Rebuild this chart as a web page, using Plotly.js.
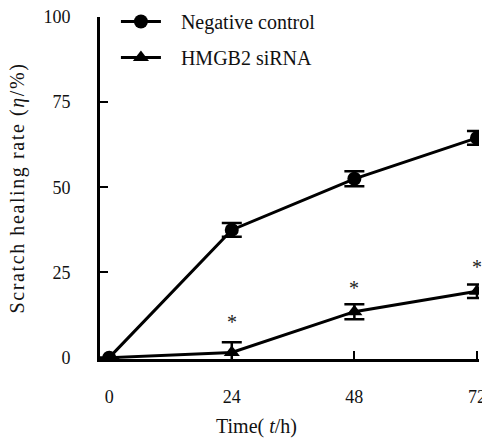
<!DOCTYPE html>
<html><head><meta charset="utf-8">
<script src="https://cdn.plot.ly/plotly-3.0.1.min.js"></script>
<style>html,body{margin:0;padding:0;background:#fff}
.ytitle{letter-spacing:1.6px}</style>
</head><body>
<div id="chart" style="width:482px;height:439px"></div>
<script>
const times = [0, 24, 48, 72];
const controlValues = [0, 37.5, 52.5, 64.5];
const controlErrors = [0, 2, 2.2, 2];
const sirnaValues = [0, 1.5, 13.5, 19.5];
const sirnaErrors = [0, 3, 2.2, 2];
const starTimes = [24, 48, 72];
const starValues = [10.5, 20.5, 26.5];
const xTicks = [0, 24, 48, 72];
const yTicks = [0, 25, 50, 75, 100];

const font = 'Liberation Serif';
const txt = '#111';
const traces = [
  {x: times, y: controlValues, name: '&nbsp;&nbsp;&nbsp;Negative control', legendgroup: 'a', mode: 'lines+markers',
   line: {color: '#000', width: 3}, marker: {symbol: 'circle', size: 14, color: '#000'},
   error_y: {type: 'data', array: controlErrors, visible: true, color: '#000', thickness: 2.5, width: 10}},
  {x: times, y: sirnaValues, name: '&nbsp;&nbsp;&nbsp;HMGB2 siRNA', legendgroup: 'b', mode: 'lines+markers',
   line: {color: '#000', width: 3}, marker: {symbol: 'triangle-up', size: 14, color: '#000'},
   error_y: {type: 'data', array: sirnaErrors, visible: true, color: '#000', thickness: 2.5, width: 10}}
];
const annotations = starTimes.map((t, i) => ({
  x: t, y: starValues[i], xref: 'x', yref: 'y', text: '*', showarrow: false,
  font: {family: font, size: 20, color: '#222'}
}));
annotations.push({
  x: 0.414, y: -0.198, xref: 'paper', yref: 'paper', xanchor: 'center', yanchor: 'middle',
  text: 'Time( <i>t</i>/h)', showarrow: false, font: {family: font, size: 20, color: txt}
});
const layout = {
  width: 482, height: 439,
  margin: {l: 100, r: 3, t: 16, b: 80},
  paper_bgcolor: '#fff', plot_bgcolor: '#fff',
  font: {family: font, size: 18, color: txt},
  showlegend: true,
  legend: {x: 0.042, y: 1.041, xanchor: 'left', yanchor: 'top', bgcolor: 'rgba(0,0,0,0)',
    itemwidth: 40, tracegroupgap: 7, traceorder: 'grouped',
    font: {family: font, size: 20, color: txt}},
  xaxis: {range: [-1.8, 72.4], tickvals: xTicks, ticktext: xTicks.map(String),
    showline: true, linecolor: '#000', linewidth: 3, showgrid: false, zeroline: false,
    ticks: 'inside', ticklen: 8, tickwidth: 2, tickcolor: '#000', ticklabeloverflow: 'allow',
    tickfont: {family: font, size: 18, color: txt}, ticklabelstandoff: 19},
  yaxis: {range: [-0.4, 100], tickvals: yTicks, ticktext: yTicks.map(String),
    showline: true, linecolor: '#000', linewidth: 3, showgrid: false, zeroline: false,
    ticks: 'inside', ticklen: 8, tickwidth: 2, tickcolor: '#000',
    tickfont: {family: font, size: 18, color: txt}, ticklabelstandoff: 23,
    title: {text: 'Scratch healing rate (<i>η</i>/%)', font: {family: font, size: 20, color: txt}, standoff: 14}},
  annotations: annotations
};
Plotly.newPlot('chart', traces, layout, {displayModeBar: false});
</script>
</body></html>
